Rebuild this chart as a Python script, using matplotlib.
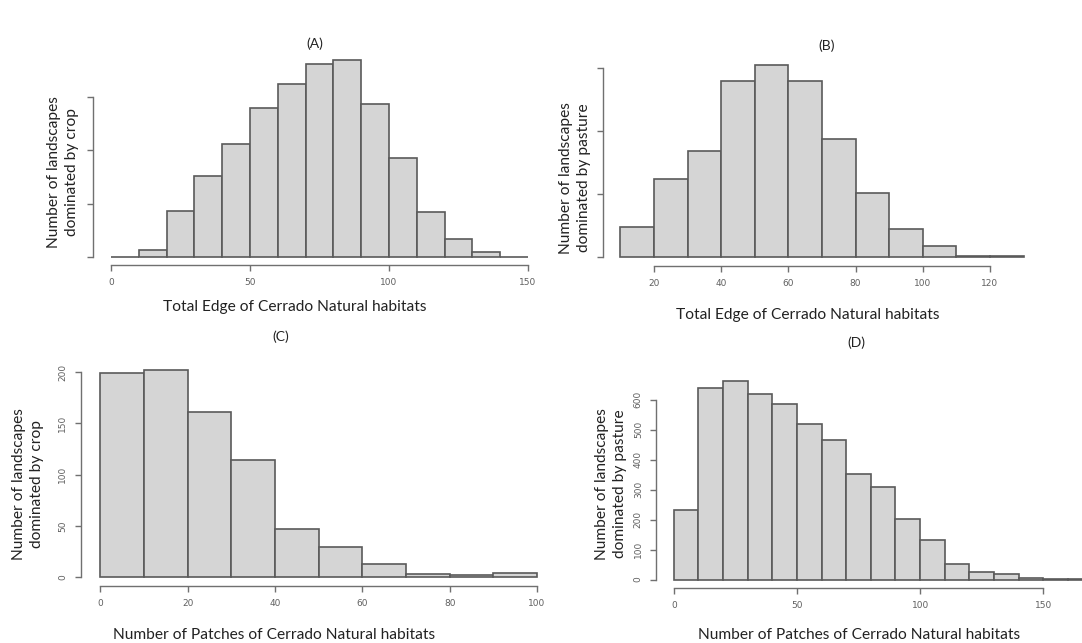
import numpy as np
import matplotlib
matplotlib.use("Agg")
import matplotlib.pyplot as plt

W, H = 1082, 643

# ---------------- data ----------------
# (A) Total edge, crop-dominated landscapes
edges_a = [0, 10, 20, 30, 40, 50, 60, 70, 80, 90, 100, 110, 120, 130, 140, 150]
counts_a = [0, 7, 43, 76, 106, 140, 162, 181, 185, 143, 93, 42, 17, 4.5, 0]
yticks_a = [0, 50, 100, 150]
xticks_a = [0, 50, 100, 150]

# (B) Total edge, pasture-dominated landscapes
edges_b = [10, 20, 30, 40, 50, 60, 70, 80, 90, 100, 110, 120, 130]
counts_b = [140, 369, 504, 837, 912, 837, 561, 301, 132, 49, 5, 5]
yticks_b = [0, 300, 600, 900]
xticks_b = [20, 40, 60, 80, 100, 120]

# (C) Number of patches, crop-dominated landscapes
edges_c = [0, 10, 20, 30, 40, 50, 60, 70, 80, 90, 100]
counts_c = [199, 202, 161, 114, 47, 29, 13, 3, 1.5, 4]
yticks_c = [0, 50, 100, 150, 200]
xticks_c = [0, 20, 40, 60, 80, 100]

# (D) Number of patches, pasture-dominated landscapes
edges_d = [0, 10, 20, 30, 40, 50, 60, 70, 80, 90, 100, 110, 120, 130, 140, 150, 160, 170]
counts_d = [232, 638, 661, 620, 584, 519, 466, 353, 309, 203, 131, 51, 26, 19, 5, 3, 1]
yticks_d = [0, 100, 200, 300, 400, 500, 600]
xticks_d = [0, 50, 100, 150]

titles = ["(A)", "(B)", "(C)", "(D)"]
xlabels = ["Total Edge of Cerrado Natural habitats",
           "Total Edge of Cerrado Natural habitats",
           "Number of Patches of Cerrado Natural habitats",
           "Number of Patches of Cerrado Natural habitats"]
ylabels = ["Number of landscapes\ndominated by crop",
           "Number of landscapes\ndominated by pasture",
           "Number of landscapes\ndominated by crop",
           "Number of landscapes\ndominated by pasture"]

FONT = "Lato"
FILL = "#d5d5d5"
EDGE = "#5a5a5a"
AXC = "#707070"
TICKC = "#606060"

fig = plt.figure(figsize=(W / 100, H / 100), dpi=100)


def make_ax(xref, yref, px_left, px_right, px_bottom, px_top):
    (xv0, xp0), (xv1, xp1) = xref
    (yv0, yp0), (yv1, yp1) = yref
    sx = (xv1 - xv0) / (xp1 - xp0)
    sy = (yv1 - yv0) / (yp1 - yp0)
    xlo = xv0 + (px_left - xp0) * sx
    xhi = xv0 + (px_right - xp0) * sx
    ylo = yv0 + (px_bottom - yp0) * sy
    yhi = yv0 + (px_top - yp0) * sy
    ax = fig.add_axes([px_left / W, 1 - px_bottom / H,
                       (px_right - px_left) / W, (px_bottom - px_top) / H])
    ax.set_xlim(xlo, xhi)
    ax.set_ylim(ylo, yhi)
    ax.patch.set_alpha(0)
    for s in ("top", "right"):
        ax.spines[s].set_visible(False)
    for s in ("left", "bottom"):
        ax.spines[s].set_color(AXC)
        ax.spines[s].set_linewidth(1.0)
    ax.tick_params(axis="both", direction="out", length=4.5, width=1.0,
                   color=AXC, labelcolor=TICKC, labelsize=6.5, pad=5)
    return ax


def draw(ax, edges, counts, xticks, yticks, ylabels_on):
    e = np.asarray(edges, dtype=float)
    ax.bar(e[:-1], counts, width=np.diff(e), align="edge", color=FILL,
           edgecolor=EDGE, linewidth=1.2, clip_on=False)
    ax.set_xticks(xticks)
    ax.set_xticklabels([str(t) for t in xticks], family="DejaVu Sans")
    ax.spines["bottom"].set_bounds(xticks[0], xticks[-1])
    ax.set_yticks(yticks)
    ax.spines["left"].set_bounds(yticks[0], yticks[-1])
    if ylabels_on:
        ax.set_yticklabels([str(t) for t in yticks], rotation=90,
                           va="center", family="DejaVu Sans")
    else:
        ax.set_yticklabels([])


# Panel A
axA = make_ax(((0, 111), (150, 528)), ((0, 257), (150, 97)), 93, 540, 265, 50)
draw(axA, edges_a, counts_a, xticks_a, yticks_a, False)
# Panel B
axB = make_ax(((20, 654), (120, 990)), ((0, 256.7), (900, 67.7)), 603, 1040, 265.7, 55)
draw(axB, edges_b, counts_b, xticks_b, yticks_b, False)
# Panel C
axC = make_ax(((0, 100.3), (100, 537)), ((0, 577), (200, 372)), 80.5, 545, 585.5, 360)
draw(axC, edges_c, counts_c, xticks_c, yticks_c, True)
# Panel D
axD = make_ax(((0, 673.8), (150, 1043.3)), ((0, 579.5), (600, 399.6)), 656, 1082, 587.7, 370)
draw(axD, edges_d, counts_d, xticks_d, yticks_d, True)


def ftext(x, y, s, size, rot=0, ls=1.2):
    fig.text(x / W, 1 - y / H, s, ha="center", va="center", fontsize=size,
             family=FONT, rotation=rot, color="#222222", linespacing=ls)


title_pos = [(315, 44), (827, 46), (281, 337), (856, 343)]
xlab_pos = [(295, 307), (808, 315), (274, 635), (859, 635)]
ylab_pos = [(63, 172), (575, 178), (28, 484), (611, 484)]
for i in range(4):
    ftext(*title_pos[i], titles[i], 10)
    ftext(*xlab_pos[i], xlabels[i], 11.2)
    ftext(*ylab_pos[i], ylabels[i], 11.2, rot=90, ls=1.4)

fig.savefig("out.png", dpi=100)
